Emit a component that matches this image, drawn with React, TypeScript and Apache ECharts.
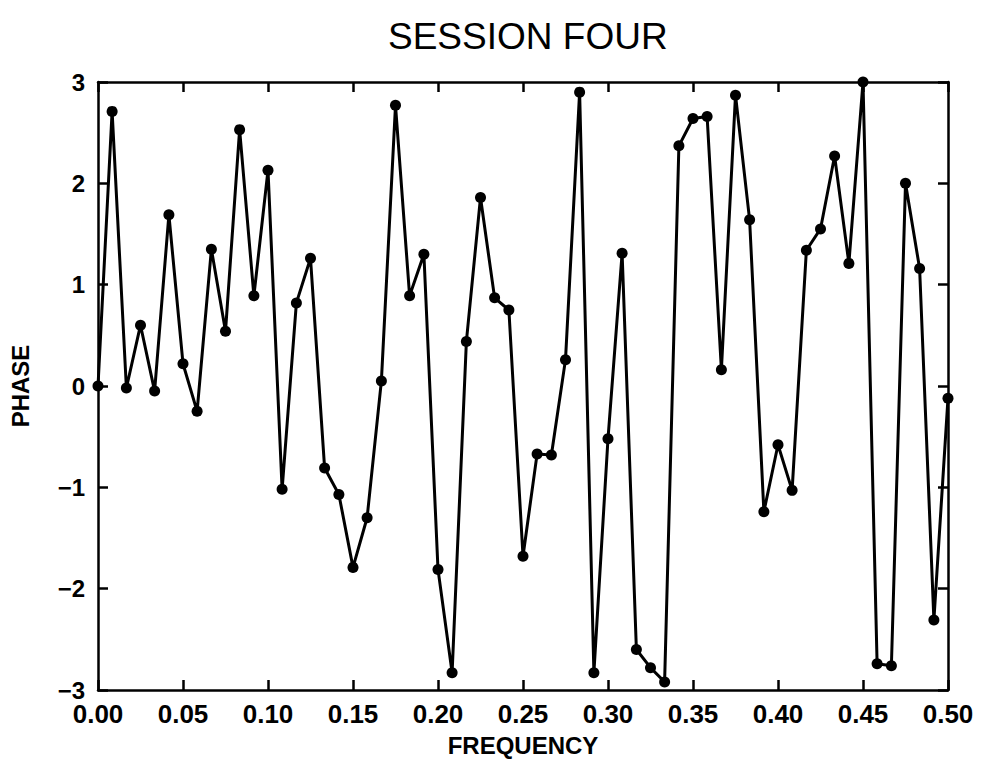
import React, { useEffect, useRef } from "react";
import * as echarts from "echarts";

const TITLE = "SESSION FOUR";
const X_NAME = "FREQUENCY";
const Y_NAME = "PHASE";

const frequency: number[] = [
  0, 0.0083, 0.0167, 0.025, 0.0333, 0.0417, 0.05, 0.0583, 0.0667, 0.075,
  0.0833, 0.0917, 0.1, 0.1083, 0.1167, 0.125, 0.1333, 0.1417, 0.15, 0.1583,
  0.1667, 0.175, 0.1833, 0.1917, 0.2, 0.2083, 0.2167, 0.225, 0.2333, 0.2417,
  0.25, 0.2583, 0.2667, 0.275, 0.2833, 0.2917, 0.3, 0.3083, 0.3167, 0.325,
  0.3333, 0.3417, 0.35, 0.3583, 0.3667, 0.375, 0.3833, 0.3917, 0.4, 0.4083,
  0.4167, 0.425, 0.4333, 0.4417, 0.45, 0.4583, 0.4667, 0.475, 0.4833, 0.4917,
  0.5,
];

const phase: number[] = [
  0.0, 2.71, -0.02, 0.6, -0.05, 1.69, 0.22, -0.25, 1.35, 0.54,
  2.53, 0.89, 2.13, -1.02, 0.82, 1.26, -0.81, -1.07, -1.79, -1.3,
  0.05, 2.77, 0.89, 1.3, -1.81, -2.83, 0.44, 1.86, 0.87, 0.75,
  -1.68, -0.67, -0.68, 0.26, 2.9, -2.83, -0.52, 1.31, -2.6, -2.78,
  -2.92, 2.37, 2.64, 2.66, 0.16, 2.87, 1.64, -1.24, -0.58, -1.03,
  1.34, 1.55, 2.27, 1.21, 3.0, -2.74, -2.76, 2.0, 1.16, -2.31,
  -0.12,
];

const FONT = "'Liberation Sans', Arial, sans-serif";

export default function App() {
  const ref = useRef<HTMLDivElement>(null);
  useEffect(() => {
    document.body.style.margin = "0";
    if (!ref.current) return;
    const chart = echarts.init(ref.current, null, { renderer: "svg" });
    const axisLine = { show: true, onZero: false, lineStyle: { color: "#000", width: 2.5 } };
    const axisTick = { show: true, inside: true, length: 10, lineStyle: { color: "#000", width: 2.5 } };
    chart.setOption({
      animation: false,
      backgroundColor: "#fff",
      title: {
        text: TITLE,
        left: 383,
        top: 13,
        textStyle: { fontFamily: FONT, fontSize: 37, fontWeight: "normal", color: "#000" },
      },
      grid: { left: 92, right: 39, top: 82, bottom: 65 },
      xAxis: [
        {
          type: "value",
          position: "bottom",
          min: 0,
          max: 0.5,
          interval: 0.05,
          axisLine,
          axisTick,
          splitLine: { show: false },
          axisLabel: {
            formatter: (v: number) => v.toFixed(2),
            fontFamily: FONT,
            fontSize: 26,
            fontWeight: "bold",
            color: "#000",
            lineHeight: 20,
            margin: 14,
          },
          name: X_NAME,
          nameLocation: "middle",
          nameGap: 43,
          nameTextStyle: { fontFamily: FONT, fontSize: 24, fontWeight: "bold", color: "#000" },
        },
        {
          type: "value",
          position: "top",
          min: 0,
          max: 0.5,
          interval: 0.05,
          axisLine,
          axisTick,
          axisLabel: { show: false },
          splitLine: { show: false },
        },
      ],
      yAxis: [
        {
          type: "value",
          position: "left",
          min: -3,
          max: 3,
          interval: 1,
          axisLine,
          axisTick,
          splitLine: { show: false },
          axisLabel: {
            formatter: (v: number) => (v < 0 ? "\u2212" + Math.abs(v) : String(v)),
            fontFamily: FONT,
            fontSize: 24,
            fontWeight: "bold",
            color: "#000",
            lineHeight: 18,
            margin: 13,
          },
          name: Y_NAME,
          nameLocation: "middle",
          nameGap: 66,
          nameRotate: 90,
          nameTextStyle: { fontFamily: FONT, fontSize: 24, fontWeight: "bold", color: "#000" },
        },
        {
          type: "value",
          position: "right",
          min: -3,
          max: 3,
          interval: 1,
          axisLine,
          axisTick,
          axisLabel: { show: false },
          splitLine: { show: false },
        },
      ],
      series: [
        {
          type: "line",
          data: frequency.map((f, i) => [f, phase[i]]),
          symbol: "circle",
          symbolSize: 11,
          clip: false,
          itemStyle: { color: "#000" },
          lineStyle: { color: "#000", width: 3 },
        },
      ],
    });
    return () => chart.dispose();
  }, []);
  return <div ref={ref} style={{ width: 987, height: 762 }} />;
}
